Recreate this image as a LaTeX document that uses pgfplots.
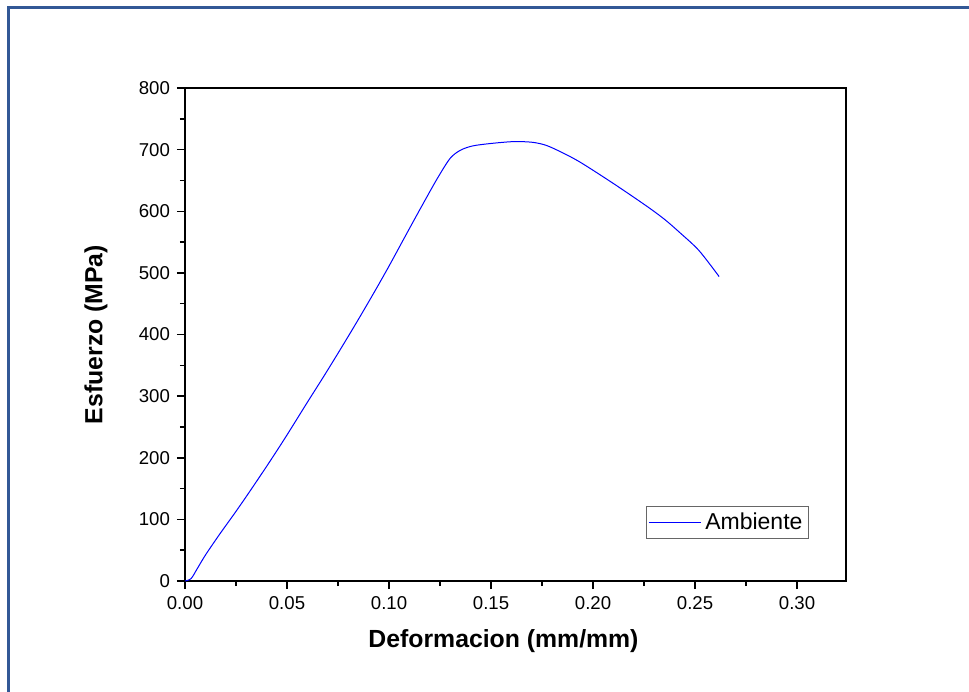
\documentclass[border=0pt]{standalone}
\usepackage{fontspec}
\setmainfont{Liberation Sans}
\usepackage{pgfplots}
\pgfplotsset{compat=1.18}
\definecolor{frameBlue}{RGB}{50,88,150}

\begin{document}
\begin{tikzpicture}[x=0.5pt,y=0.5pt]
% page extent and outer frame (1 unit = one pixel of the reference)
\useasboundingbox (-185,-110) rectangle (784,581);
\draw[frameBlue, line width=1.5pt] (-176,-115) -- (-176,573) -- (790,573);
\begin{axis}[
  at={(0,0)}, anchor=south west,
  scale only axis,
  width=330.5pt, height=246.5pt,
  xmin=0, xmax=0.324, ymin=0, ymax=800,
  xtick={0,0.05,...,0.30},
  ytick={0,100,...,800},
  minor xtick={0.025,0.075,...,0.30},
  minor ytick={50,150,...,750},
  xtick pos=left, ytick pos=left,
  tick align=outside,
  major tick length=4pt, minor tick length=2.5pt,
  every tick/.style={black, line width=0.75pt},
  axis line style={line width=0.75pt},
  /pgf/number format/assume math mode=true,
  xticklabel style={/pgf/number format/.cd, fixed, fixed zerofill, precision=2},
  yticklabel style={/pgf/number format/.cd, fixed},
  tick label style={font=\fontsize{9.3pt}{11pt}\selectfont},
  xlabel={\bfseries Deformacion (mm/mm)},
  ylabel={\bfseries Esfuerzo (MPa)},
  label style={font=\fontsize{12.4pt}{14pt}\selectfont},
  xlabel style={at={(axis description cs:0.5,-0.1217)}, anchor=center, xshift=-6pt},
  ylabel style={at={(axis description cs:-0.1346,0.5)}, anchor=center},
  legend style={at={(axis cs:0.3059,121.8)}, anchor=north east,
    draw=black!60, line width=0.6pt, fill=white,
    font=\fontsize{11.5pt}{13pt}\selectfont,
    inner sep=1pt},
  legend cell align=left,
  legend image code/.code={\draw[#1] (0pt,0pt) -- (26pt,0pt);},
]
\addplot[color=blue, line width=0.5pt, smooth, tension=0.5] coordinates {
  (0.000,0)
  (0.003,4)
  (0.006,20)
  (0.010,42)
  (0.017,76)
  (0.025,113)
  (0.0327,150)
  (0.042,196)
  (0.050,237)
  (0.0596,288)
  (0.068,332)
  (0.076,375)
  (0.084,419)
  (0.0923,466)
  (0.100,511)
  (0.1087,564)
  (0.117,614)
  (0.124,655)
  (0.130,686)
  (0.135,699)
  (0.141,706)
  (0.150,710)
  (0.161,713)
  (0.170,712)
  (0.177,707)
  (0.185,695)
  (0.194,679)
  (0.210,645)
  (0.226,609)
  (0.235,587)
  (0.243,564)
  (0.252,536)
  (0.2618,494)
};
\addlegendentry{Ambiente}
\end{axis}
\end{tikzpicture}
\end{document}
